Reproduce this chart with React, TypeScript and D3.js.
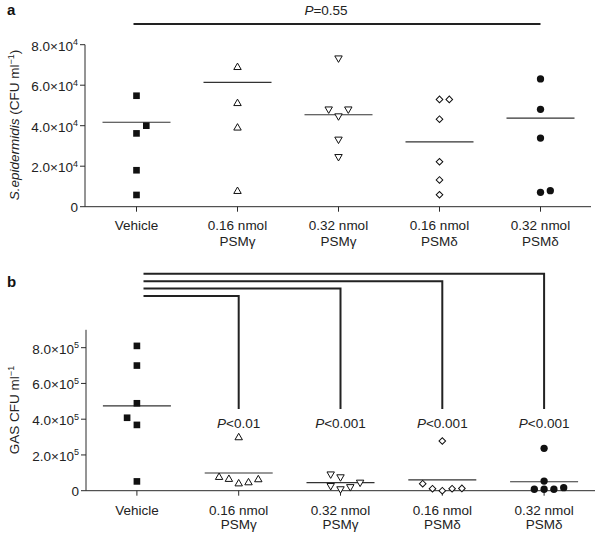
import React from 'react';
import * as d3 from 'd3';

// ---------- data ----------
const catLine1 = ['Vehicle', '0.16 nmol', '0.32 nmol', '0.16 nmol', '0.32 nmol'];
const catLine2 = ['', 'PSMγ', 'PSMγ', 'PSMδ', 'PSMδ'];
const markerTypes = ['square', 'triangleUp', 'triangleDown', 'diamond', 'circle'];

// Panel a: S. epidermidis CFU/ml
const aValues = [
  [5.48e4, 4.0e4, 3.62e4, 1.8e4, 0.58e4],
  [6.88e4, 5.1e4, 3.89e4, 0.76e4],
  [7.34e4, 4.82e4, 4.48e4, 4.82e4, 3.33e4, 2.47e4],
  [5.3e4, 5.3e4, 4.32e4, 2.22e4, 1.32e4, 0.59e4],
  [6.31e4, 4.81e4, 3.39e4, 0.71e4, 0.79e4],
];
// dodge slot of each point (side-by-side placement of overlapping points)
const aSlots = [
  [0, 1, 0, 0, 0],
  [0, 0, 0, 0],
  [0, -1, 0, 1, 0, 0],
  [0, 1, 0, 0, 0, 0],
  [0, 0, 0, 0, 1],
];
const aMeans = [4.17e4, 6.14e4, 4.54e4, 3.2e4, 4.37e4];
const aTicks = [0, 2e4, 4e4, 6e4, 8e4];
const aPText = '=0.55';

// Panel b: GAS CFU/ml
const bValues = [
  [8.1e5, 7.0e5, 4.89e5, 4.08e5, 3.68e5, 0.52e5],
  [2.97e5, 0.75e5, 0.64e5, 0.39e5, 0.45e5, 0.62e5],
  [0.93e5, 0.77e5, 0.28e5, 0.1e5, 0.22e5, 0.47e5],
  [2.78e5, 0.39e5, 0.11e5, 0.0, 0.11e5, 0.13e5],
  [2.37e5, 0.54e5, 0.08e5, 0.08e5, 0.08e5, 0.17e5],
];
const bSlots = [
  [0, 0, 0, -1, 0, 0],
  [0, -2, -1, 0, 1, 2],
  [-1, 0, -1, 0, 1, 2],
  [0, -2, -1, 0, 1, 2],
  [0, 0, -1, 0, 1, 2],
];
const bMeans = [4.74e5, 0.99e5, 0.45e5, 0.6e5, 0.5e5];
const bTicks = [0, 2e5, 4e5, 6e5, 8e5];
const bCompareTargets = [1, 2, 3, 4];
const bPTexts = ['<0.01', '<0.001', '<0.001', '<0.001'];

// ---------- helpers ----------
const FONT = '"Liberation Sans", Arial, Helvetica, sans-serif';
const AX = '#2a2a2a';

function markerPath(type: string): { d: string; rot: number; fill: string } {
  switch (type) {
    case 'square':
      return { d: d3.symbol(d3.symbolSquare, 44)()!, rot: 0, fill: '#111' };
    case 'triangleUp':
      return { d: d3.symbol(d3.symbolTriangle, 24)()!, rot: 0, fill: '#fff' };
    case 'triangleDown':
      return { d: d3.symbol(d3.symbolTriangle, 24)()!, rot: 180, fill: '#fff' };
    case 'diamond':
      return { d: d3.symbol(d3.symbolSquare, 22)()!, rot: 45, fill: '#fff' };
    default:
      return { d: d3.symbol(d3.symbolCircle, 42)()!, rot: 0, fill: '#111' };
  }
}

function tickLabel(v: number, exp: number) {
  if (v === 0) return <tspan>0</tspan>;
  const m = (v / Math.pow(10, exp)).toFixed(1);
  return (
    <>
      <tspan>{m}×10</tspan>
      <tspan dy={-5.5} fontSize={9}>{exp}</tspan>
    </>
  );
}

type PanelProps = {
  values: number[][];
  slots: number[][];
  means: number[];
  ticks: number[];
  exp: number;
  yMax: number;
  axisX: number;
  xRange: [number, number];
  y0: number;
  yTopPx: number;
  label1dy: number;
  label2dy: number;
};

function Panel(p: PanelProps) {
  const x = d3.scalePoint<number>().domain(d3.range(catLine1.length)).range(p.xRange).padding(0.5);
  const y = d3.scaleLinear().domain([0, p.yMax]).range([p.y0, p.yTopPx]);
  const slotW = 9.8;
  const halfMean = 34;
  return (
    <g>
      {/* y axis */}
      <line x1={p.axisX} x2={p.axisX} y1={y(p.yMax)} y2={p.y0} stroke={AX} strokeWidth={1} />
      {p.ticks.map((t) => (
        <g key={t}>
          <line x1={p.axisX - 5} x2={p.axisX} y1={y(t)} y2={y(t)} stroke={AX} strokeWidth={1} />
          <text x={p.axisX - 7} y={y(t) + (t === 0 ? 4.8 : 6)} textAnchor="end" fontSize={13.5} fill="#222">
            {tickLabel(t, p.exp)}
          </text>
        </g>
      ))}
      {/* x axis */}
      <line x1={p.axisX} x2={p.xRange[1]} y1={p.y0} y2={p.y0} stroke={AX} strokeWidth={1} />
      {catLine1.map((c, i) => (
        <g key={i}>
          <line x1={x(i)!} x2={x(i)!} y1={p.y0} y2={p.y0 + 5} stroke={AX} strokeWidth={1} />
          <text x={x(i)!} y={p.y0 + p.label1dy} textAnchor="middle" fontSize={13.5} fill="#222">{c}</text>
          {catLine2[i] && (
            <text x={x(i)!} y={p.y0 + p.label2dy} textAnchor="middle" fontSize={13.5} fill="#222">{catLine2[i]}</text>
          )}
        </g>
      ))}
      {/* mean lines */}
      {p.means.map((m, i) => (
        <line key={'m' + i} x1={x(i)! - halfMean} x2={x(i)! + halfMean} y1={y(m)} y2={y(m)} stroke="#333" strokeWidth={1.2} />
      ))}
      {/* points */}
      {p.values.map((arr, i) => {
        const mk = markerPath(markerTypes[i]);
        return arr.map((v, j) => (
          <path
            key={i + '-' + j}
            d={mk.d}
            transform={`translate(${x(i)! + p.slots[i][j] * slotW},${y(v)}) rotate(${mk.rot})`}
            fill={mk.fill}
            stroke="#111"
            strokeWidth={mk.fill === '#fff' ? 1 : 0}
          />
        ));
      })}
    </g>
  );
}

export default function App() {
  const aX = d3.scalePoint<number>().domain(d3.range(5)).range([86, 591]).padding(0.5);
  const bX = d3.scalePoint<number>().domain(d3.range(5)).range([86, 595]).padding(0.5);
  const bracketBase = 296;
  const bracketStep = 7.4;
  const bracketBottom = 409;
  return (
    <svg width={600} height={539} style={{ position: 'absolute', left: 0, top: 0, fontFamily: FONT }}>
      <rect width={600} height={539} fill="#fff" />
      {/* panel a */}
      <text x={7} y={15} fontSize={15} fontWeight="bold" fill="#111">a</text>
      <line x1={aX(0)! - 3} x2={aX(4)!} y1={24} y2={24} stroke="#222" strokeWidth={2} />
      <text x={326} y={15} textAnchor="middle" fontSize={13.5} fill="#222">
        <tspan fontStyle="italic">P</tspan>
        <tspan>{aPText}</tspan>
      </text>
      <text transform="translate(19,125) rotate(-90)" textAnchor="middle" fontSize={13.5} fill="#222">
        <tspan fontStyle="italic">S.epidermidis</tspan>
        <tspan> (CFU ml</tspan>
        <tspan dy={-5} fontSize={9}>−1</tspan>
        <tspan dy={5}>)</tspan>
      </text>
      <Panel
        values={aValues}
        slots={aSlots}
        means={aMeans}
        ticks={aTicks}
        exp={4}
        yMax={8e4}
        axisX={85}
        xRange={[86, 591]}
        y0={206.7}
        yTopPx={44.7}
        label1dy={23}
        label2dy={39.5}
      />

      {/* panel b */}
      <text x={7} y={287} fontSize={15} fontWeight="bold" fill="#111">b</text>
      {bCompareTargets.map((t, k) => {
        const yy = bracketBase - k * bracketStep;
        const xt = bX(t)!;
        return (
          <g key={'br' + k}>
            <path
              d={`M${bX(0)! + 6.6},${yy}H${xt}V${bracketBottom}`}
              fill="none"
              stroke="#222"
              strokeWidth={2}
            />
            <text x={xt} y={428} textAnchor="middle" fontSize={13.5} fill="#222">
              <tspan fontStyle="italic">P</tspan>
              <tspan>{bPTexts[k]}</tspan>
            </text>
          </g>
        );
      })}
      <text transform="translate(19,410) rotate(-90)" textAnchor="middle" fontSize={13.5} fill="#222">
        <tspan>GAS CFU ml</tspan>
        <tspan dy={-5} fontSize={9}>−1</tspan>
      </text>
      <Panel
        values={bValues}
        slots={bSlots}
        means={bMeans}
        ticks={bTicks}
        exp={5}
        yMax={9e5}
        axisX={86}
        xRange={[86, 595]}
        y0={490.7}
        yTopPx={329.8}
        label1dy={24.5}
        label2dy={38.5}
      />
    </svg>
  );
}
